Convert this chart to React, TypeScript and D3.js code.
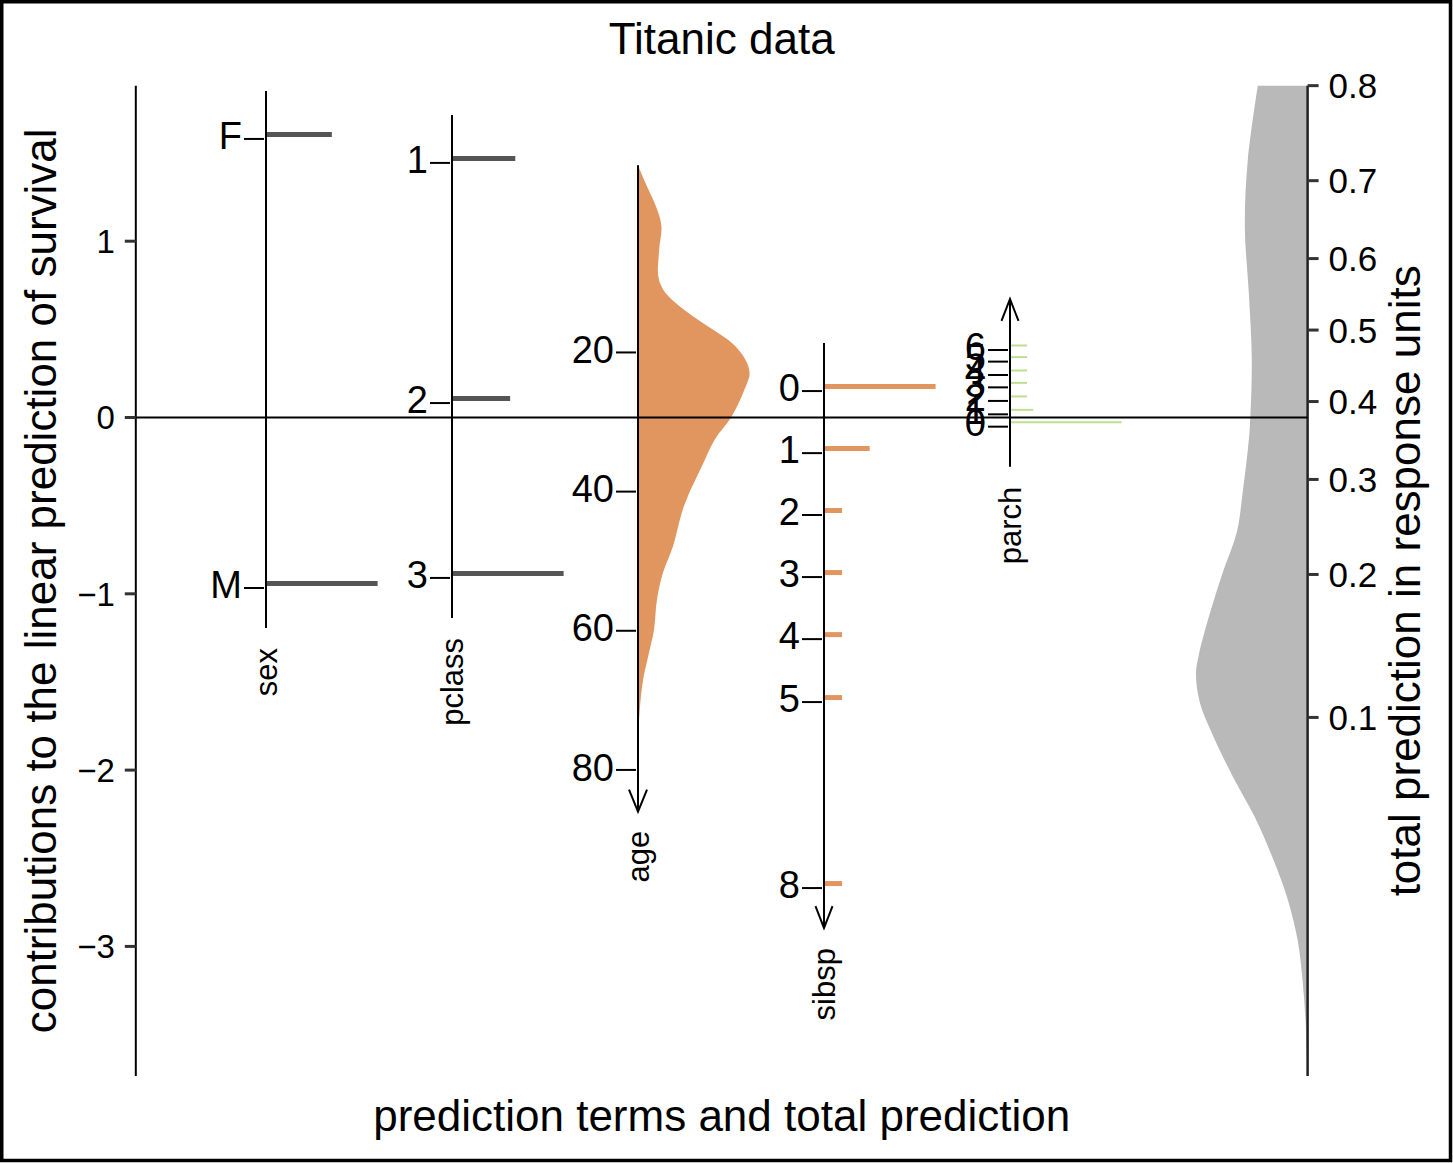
import React from "react";
import * as d3 from "d3";

const W = 1453;
const H = 1163;
const FONT = "'Liberation Sans', Arial, Helvetica, sans-serif";

// ---------- data ----------
const varNames = ["sex", "pclass", "age", "sibsp", "parch"];

const sexLevels = ["F", "M"];
const sexEffect = [1.58, -0.967];
const sexCount = [388, 658];

const pclassLevels = ["1", "2", "3"];
const pclassEffect = [1.444, 0.082, -0.91];
const pclassCount = [284, 261, 501];

const ageTicks = [20, 40, 60, 80];
const ageTickEffect = [0.369, -0.42, -1.21, -1.999];
const ageGrid = [-6.9, -4.5, -0.6, 1.9, 5.2, 9.1, 10.9, 12.8, 14.8, 16.7, 18.6, 20.6, 22.9, 25.3, 29.2, 32.5, 36.4, 40.7, 43.0, 47.9, 51.7, 55.5, 59.9, 63.2, 67.1, 70.9, 74.7, 78.6, 86];
const ageDensity = [0, 0.063, 0.17, 0.21, 0.19, 0.182, 0.223, 0.33, 0.491, 0.67, 0.839, 0.946, 1.0, 0.955, 0.839, 0.688, 0.571, 0.446, 0.393, 0.313, 0.223, 0.17, 0.143, 0.098, 0.045, 0.018, 0.004, 0.002, 0];

const sibspLevels = ["0", "1", "2", "3", "4", "5", "8"];
const sibspEffect = [0.15, -0.202, -0.553, -0.905, -1.257, -1.614, -2.669];
const sibspCount = [684, 280, 36, 16, 22, 6, 9];

const parchLevels = ["0", "1", "2", "3", "4", "5", "6"];
const parchEffect = [-0.052, 0.018, 0.094, 0.171, 0.241, 0.317, 0.383];
const parchCount = [768, 160, 97, 8, 5, 6, 2];

const leftTicks = [1, 0, -1, -2, -3];
const rightTicks = [0.1, 0.2, 0.3, 0.4, 0.5, 0.6, 0.7, 0.8];

const totalLogit = [1.386, 0.964, 0.584, 0.21, -0.17, -0.55, -0.68, -0.913, -1.146, -1.373, -1.605, -1.838, -1.954, -2.116, -2.3, -2.533, -2.762, -2.995, -3.228, -3.46, -3.693, -3.92, -4.15, -4.23];
const totalDensity = [50, 60, 63, 59, 56, 58, 60, 65, 71, 85, 98, 109, 112, 108, 95, 75, 53, 35, 20, 10, 5, 2, 0.5, 0];
const totalShift = 0.496;

const contribDomain = [-3.735, 1.882];

// ---------- scales ----------
const yMain = d3.scaleLinear().domain(contribDomain).range([1076, 85.7]);
const xPos = d3.scalePoint<string>().domain(varNames).range([266, 1010]);
const step = xPos.step();
const barMax = step * 0.6;
const leftX = (xPos("sex") as number) - 0.7 * step;
const rightX = (xPos("parch") as number) + 1.6 * step;
const ageY = d3.scaleLinear().domain([ageTicks[0], ageTicks[3]]).range([yMain(ageTickEffect[0]), yMain(ageTickEffect[3])]);
const logit = (p: number) => Math.log(p / (1 - p));
const yRight = (L: number) => yMain(L + totalShift);

const ORANGE = "#E1965F";
const GREEN = "#BEE08E";
const DARK = "#555555";
const GREY = "#B9B9B9";

const LABEL_FS = 38;
const NAME_FS = 31;
const LEFT_FS = 33;
const RIGHT_FS = 35;

function Discrete(props: {
  name: string; levels: string[]; effects: number[]; counts: number[];
  color: string; thick: number; minLen: number; arrow: "none" | "up" | "down";
}) {
  const { name, levels, effects, counts, color, thick, minLen, arrow } = props;
  const x = xPos(name) as number;
  const ys = effects.map((e) => yMain(e));
  const top = (d3.min(ys) as number) - (arrow === "up" ? 51 : 48);
  const bottom = (d3.max(ys) as number) + 40;
  const wScale = d3.scaleLinear().domain([0, d3.max(counts) as number]).range([0, barMax]);
  return (
    <g>
      {levels.map((lv, i) => (
        <line key={"b" + i} x1={x} x2={x + Math.max(minLen, wScale(counts[i]))}
          y1={ys[i] - 4.5} y2={ys[i] - 4.5} stroke={color} strokeWidth={thick} />
      ))}
      <line x1={x} x2={x} y1={top} y2={bottom} stroke="#000" strokeWidth={2} />
      {arrow === "down" && (
        <path d={`M${x - 8.5},${bottom - 22}L${x},${bottom}L${x + 8.5},${bottom - 22}`} fill="none" stroke="#000" strokeWidth={2} />
      )}
      {arrow === "up" && (
        <path d={`M${x - 8.5},${top + 22}L${x},${top}L${x + 8.5},${top + 22}`} fill="none" stroke="#000" strokeWidth={2} />
      )}
      {levels.map((lv, i) => (
        <g key={"t" + i}>
          <line x1={x - 22} x2={x - 2} y1={ys[i]} y2={ys[i]} stroke="#000" strokeWidth={2} />
          <text x={x - 24} y={ys[i] - 4 + 0.358 * LABEL_FS} textAnchor="end" fontSize={LABEL_FS}>{lv}</text>
        </g>
      ))}
      <text transform={`translate(${x},${bottom + 20}) rotate(-90)`} textAnchor="end" dominantBaseline="central" fontSize={NAME_FS}>{name}</text>
    </g>
  );
}

export default function App() {
  const xAge = xPos("age") as number;
  const ageW = d3.scaleLinear().domain([0, d3.max(ageDensity) as number]).range([0, barMax]);
  const ageArea = d3.area<number>()
    .y((_, i) => ageY(ageGrid[i]))
    .x0(xAge)
    .x1((d) => xAge + ageW(d))
    .curve(d3.curveCatmullRom.alpha(0.5));
  const ageTop = ageY(ageGrid[0]);
  const ageBottom = ageY(ageGrid[ageGrid.length - 1]);

  const totW = d3.scaleLinear().domain([0, d3.max(totalDensity) as number]).range([0, barMax]);
  const totArea = d3.area<number>()
    .y((_, i) => yRight(totalLogit[i]))
    .x0(rightX)
    .x1((d) => rightX - totW(d))
    .curve(d3.curveCatmullRom.alpha(0.5));

  const yTop = yMain(contribDomain[1]);
  const yBot = yMain(contribDomain[0]);

  return (
    <svg width={W} height={H} style={{ position: "absolute", left: 0, top: 0, background: "#fff" }} fontFamily={FONT}>
      <rect x={0} y={0} width={W} height={H} fill="#fff" />
      {/* densities */}
      <path d={ageArea(ageDensity) as string} fill={ORANGE} />
      <path d={totArea(totalDensity) as string} fill={GREY} />

      {/* left axis */}
      <line x1={leftX} x2={leftX} y1={yTop} y2={yBot} stroke="#000" strokeWidth={2} />
      {leftTicks.map((t) => (
        <g key={"l" + t}>
          <line x1={leftX - 11} x2={leftX} y1={yMain(t)} y2={yMain(t)} stroke="#333" strokeWidth={3} />
          <text x={leftX - 21} y={yMain(t) + 0.358 * LEFT_FS} textAnchor="end" fontSize={LEFT_FS}>{t < 0 ? "\u2212" + Math.abs(t) : String(t)}</text>
        </g>
      ))}

      {/* right axis */}
      <line x1={rightX} x2={rightX} y1={yTop} y2={yBot} stroke="#222" strokeWidth={2.5} />
      {rightTicks.map((p) => (
        <g key={"r" + p}>
          <line x1={rightX} x2={rightX + 11} y1={yRight(logit(p))} y2={yRight(logit(p))} stroke="#333" strokeWidth={3} />
          <text x={rightX + 21} y={yRight(logit(p)) + 0.358 * RIGHT_FS} textAnchor="start" fontSize={RIGHT_FS}>{p.toFixed(1)}</text>
        </g>
      ))}

      {/* variables */}
      <Discrete name="sex" levels={sexLevels} effects={sexEffect} counts={sexCount} color={DARK} thick={5} minLen={18} arrow="none" />
      <Discrete name="pclass" levels={pclassLevels} effects={pclassEffect} counts={pclassCount} color={DARK} thick={5} minLen={18} arrow="none" />
      <Discrete name="sibsp" levels={sibspLevels} effects={sibspEffect} counts={sibspCount} color={ORANGE} thick={5} minLen={18} arrow="down" />
      <Discrete name="parch" levels={parchLevels} effects={parchEffect} counts={parchCount} color={GREEN} thick={2} minLen={17} arrow="up" />

      {/* age axis */}
      <g>
        <line x1={xAge} x2={xAge} y1={ageTop} y2={ageBottom} stroke="#000" strokeWidth={2} />
        <path d={`M${xAge - 9},${ageBottom - 22}L${xAge},${ageBottom}L${xAge + 9},${ageBottom - 22}`} fill="none" stroke="#000" strokeWidth={2} />
        {ageTicks.map((a) => (
          <g key={"a" + a}>
            <line x1={xAge - 22} x2={xAge - 2} y1={ageY(a)} y2={ageY(a)} stroke="#000" strokeWidth={2} />
            <text x={xAge - 24} y={ageY(a) - 3 + 0.358 * LABEL_FS} textAnchor="end" fontSize={LABEL_FS}>{a}</text>
          </g>
        ))}
        <text transform={`translate(${xAge},${ageBottom + 19}) rotate(-90)`} textAnchor="end" dominantBaseline="central" fontSize={NAME_FS}>age</text>
      </g>

      {/* zero line */}
      <line x1={leftX} x2={rightX} y1={yMain(0)} y2={yMain(0)} stroke="#000" strokeWidth={2} />

      {/* titles */}
      <text x={(leftX + rightX) / 2} y={54} textAnchor="middle" fontSize={44}>Titanic data</text>
      <text x={(leftX + rightX) / 2} y={1131} textAnchor="middle" fontSize={44}>prediction terms and total prediction</text>
      <text transform={`translate(56,${(yTop + yBot) / 2}) rotate(-90)`} textAnchor="middle" fontSize={44}>contributions to the linear prediction of survival</text>
      <text transform={`translate(1420,${(yTop + yBot) / 2}) rotate(-90)`} textAnchor="middle" fontSize={44}>total prediction in response units</text>

      {/* border */}
      <rect x={1.75} y={1.75} width={1448.75} height={1158.75} fill="none" stroke="#000" strokeWidth={3.5} />
    </svg>
  );
}
